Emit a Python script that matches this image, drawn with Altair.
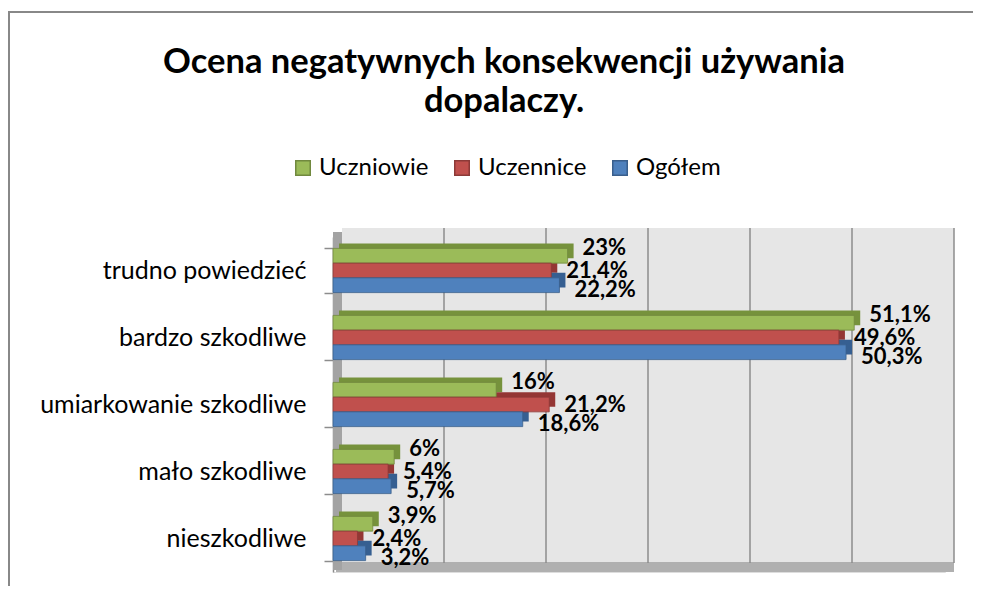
import altair as alt
import pandas as pd

categories = ["trudno powiedzieć", "bardzo szkodliwe", "umiarkowanie szkodliwe", "mało szkodliwe", "nieszkodliwe"]
series = ["Uczniowie", "Uczennice", "Ogółem"]
uczniowie = [23.0, 51.1, 16.0, 6.0, 3.9]
uczennice = [21.4, 49.6, 21.2, 5.4, 2.4]
ogolem = [22.2, 50.3, 18.6, 5.7, 3.2]
front_colors = ["#9bbb59", "#c0504d", "#4f81bd"]
depth_colors = ["#76923c", "#943634", "#365f91"]
edge_colors = ["#71893f", "#8c3a38", "#3a5f8c"]
label_dy = [-8, 0, 5]
grid_values = [10, 20, 30, 40, 50, 60]
x_domain = [0, 60]

rows = []
for s, vals in zip(series, [uczniowie, uczennice, ogolem]):
    for c, v in zip(categories, vals):
        lbl = f"{v:g}".replace(".", ",") + "%"
        rows.append({"kategoria": c, "grupa": s, "wartosc": v, "etykieta": lbl})
df = pd.DataFrame(rows)
grid_df = pd.DataFrame({"v": grid_values})
wall_df = pd.DataFrame({"v": [x_domain[0]], "v2": [x_domain[1]]})

W, H = 612, 335
FONT = "Lato"
PAD_IN = 0.34
BW = H / len(categories) * (1 - PAD_IN)   # band width of one category group
DEPTH_X, DEPTH_Y = 6, 5

xscale = alt.Scale(domain=x_domain, nice=False, zero=True)
yscale = alt.Scale(paddingInner=PAD_IN, paddingOuter=PAD_IN / 2)
y_axis = alt.Axis(title=None, labelFont=FONT, labelFontSize=25, labelColor="#000000",
                  labelPadding=18, labelLimit=400, tickSize=9, tickColor="#8c8c8c",
                  domainColor="#8c8c8c", tickBand="extent", tickWidth=1.5, domainWidth=1.5)
y_enc = alt.Y("kategoria:N", sort=categories, scale=yscale, axis=y_axis)
yoff_front = alt.YOffset("grupa:N", sort=series,
                         scale=alt.Scale(domain=series, range=[0, BW], paddingInner=0, paddingOuter=0))
yoff_depth = alt.YOffset("grupa:N", sort=series,
                         scale=alt.Scale(domain=series, range=[-DEPTH_Y, BW - DEPTH_Y],
                                         paddingInner=0, paddingOuter=0))
x_enc = alt.X("wartosc:Q", scale=xscale, axis=None)

wall = alt.Chart(wall_df).mark_rect(color="#e6e6e6", xOffset=9, x2Offset=9).encode(
    x=alt.X("v:Q", scale=xscale, axis=None), x2="v2:Q",
    y=alt.value(-9), y2=alt.value(H - 9))
floor = alt.Chart(wall_df).mark_rect(color="#b0b0b0", xOffset=3, x2Offset=9).encode(
    x=alt.X("v:Q", scale=xscale, axis=None), x2="v2:Q",
    y=alt.value(H - 10), y2=alt.value(H))
side = alt.Chart(wall_df).mark_rect(color="#a3a3a3").encode(
    x=alt.value(0), x2=alt.value(9), y=alt.value(-5), y2=alt.value(H - 2))
grid = alt.Chart(grid_df).mark_rule(color="#8c8c8c", strokeWidth=1.5, xOffset=9).encode(
    x=alt.X("v:Q", scale=xscale, axis=None), y=alt.value(-9), y2=alt.value(H - 9))

depth_layers = []
for s, col in zip(series, depth_colors):
    depth_layers.append(alt.Chart(df).transform_filter(alt.datum.grupa == s).mark_bar(
        color=col, xOffset=DEPTH_X, x2Offset=DEPTH_X).encode(
        x=x_enc, y=y_enc, yOffset=yoff_depth))
depth = alt.layer(*depth_layers)

legend = alt.Legend(orient="none", legendX=-42, legendY=-81, direction="horizontal",
                    title=None, symbolType="square", symbolSize=210, symbolStrokeWidth=1.5,
                    labelFont=FONT, labelFontSize=24, labelColor="#000000",
                    columnPadding=21, labelOffset=4)
front = alt.Chart(df).mark_bar(strokeWidth=0.8).encode(
    x=x_enc, y=y_enc, yOffset=yoff_front,
    color=alt.Color("grupa:N", scale=alt.Scale(domain=series, range=front_colors), legend=legend),
    stroke=alt.Stroke("grupa:N", scale=alt.Scale(domain=series, range=edge_colors), legend=legend))

labels = []
for s, dy in zip(series, label_dy):
    labels.append(alt.Chart(df).transform_filter(alt.datum.grupa == s).mark_text(
        align="left", baseline="middle", dx=15, dy=dy, font=FONT, fontSize=22,
        fontWeight="bold", color="#000000").encode(
        x=x_enc, y=y_enc, yOffset=yoff_front, text="etykieta:N"))
front_all = alt.layer(front, *labels)

# chart-area frame: only its left and top edges fall inside the picture
frame = alt.Chart(pd.DataFrame({"b": ["frame"]})).mark_rect(
    filled=False, stroke="#888888", strokeWidth=2).encode(
    x=alt.value(-324), x2=alt.value(W + 90), y=alt.value(-225), y2=alt.value(H + 90))

chart = alt.layer(wall, floor, side, grid, depth, front_all, frame).resolve_scale(
    yOffset="independent"
).properties(
    width=W, height=H,
    padding={"left": 325, "top": 229, "right": 28, "bottom": 14},
    autosize=alt.AutoSizeParams(type="none"),
    title=alt.TitleParams(["Ocena negatywnych konsekwencji używania", "dopalaczy."],
                          font=FONT, fontSize=34.5, fontWeight="bold", color="#000000",
                          anchor="middle", dx=-135, offset=0, dy=108, lineHeight=39),
).configure_view(stroke=None).configure(background="#ffffff")

chart.save("out.html", embed_options={"renderer": "svg", "actions": False})
